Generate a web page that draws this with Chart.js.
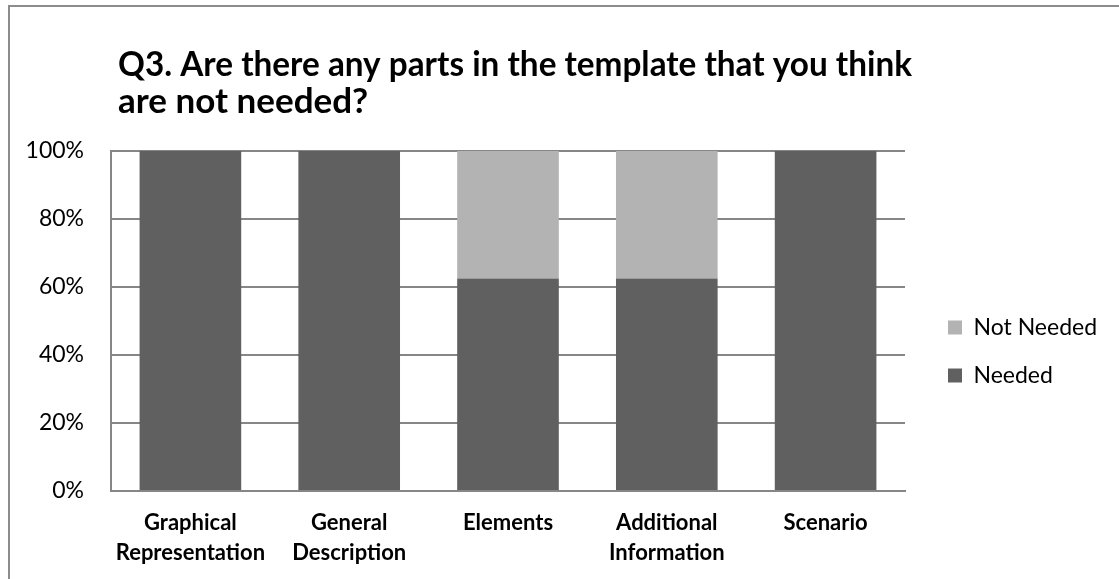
<!DOCTYPE html>
<html>
<head>
<meta charset="utf-8">
<script src="https://cdn.jsdelivr.net/npm/chart.js@4.4.1/dist/chart.umd.min.js"></script>
<style>
  html, body { margin: 0; padding: 0; background: #ffffff; }
  #wrap { position: relative; width: 1119px; height: 579px; }
  #frame { position: absolute; left: 8px; top: 5px; right: -10px; bottom: -10px;
           border-left: 2px solid #8c8c8c; border-top: 2px solid #8c8c8c; pointer-events: none; }
</style>
</head>
<body>
<div id="wrap">
  <canvas id="chart" width="1119" height="579"></canvas>
  <div id="frame"></div>
</div>
<script>
// Survey answers per template part (percent of respondents)
const categories = [
  ['Graphical', 'Representation'],
  ['General', 'Description'],
  'Elements',
  ['Additional', 'Information'],
  'Scenario'
];
const needed    = [100, 100, 62.5, 62.5, 100];
const notNeeded = [0, 0, 37.5, 37.5, 0];
const yTicks = [0, 20, 40, 60, 80, 100];

const FONT = 'Lato, "Open Sans", sans-serif';
const GRID = '#868686';

// Plot frame geometry
const PLOT_LEFT = 111;
const PLOT_BOTTOM = 491;
const LEGEND_WIDTH = 1119 - 905;
const LEGEND_SHIFT_X = 18;
const LEGEND_SHIFT_Y = 62;
const TITLE_SHIFT_X = 7;

// Fixed-width legend column nudged toward the middle of the right margin,
// title indented slightly from the plot's left edge
const blockPlacement = {
  id: 'blockPlacement',
  afterInit(chart) {
    const lg = chart.legend;
    if (!lg) return;
    const fit = lg.fit;
    lg.fit = function () { fit.call(this); this.width = LEGEND_WIDTH; };
  },
  afterLayout(chart) {
    const lg = chart.legend;
    if (lg) {
      lg.left += LEGEND_SHIFT_X; lg.right += LEGEND_SHIFT_X;
      lg.top += LEGEND_SHIFT_Y; lg.bottom += LEGEND_SHIFT_Y;
    }
    const tb = chart.titleBlock;
    if (tb) { tb.left += TITLE_SHIFT_X; tb.right += TITLE_SHIFT_X; }
  }
};

new Chart(document.getElementById('chart'), {
  type: 'bar',
  data: {
    labels: categories,
    datasets: [
      { label: 'Needed', data: needed, backgroundColor: '#606060', borderWidth: 0,
        barPercentage: 0.64, categoryPercentage: 1 },
      { label: 'Not Needed', data: notNeeded, backgroundColor: '#b3b3b3', borderWidth: 0,
        barPercentage: 0.64, categoryPercentage: 1 }
    ]
  },
  plugins: [blockPlacement],
  options: {
    responsive: false,
    animation: false,
    layout: { padding: 0 },
    plugins: {
      title: {
        display: true,
        text: ['Q3. Are there any parts in the template that you think', 'are not needed?'],
        align: 'start',
        fullSize: false,
        color: '#000000',
        font: { family: FONT, size: 35, weight: 'bold', lineHeight: '37px' },
        padding: { top: 46, bottom: 31 }
      },
      legend: {
        position: 'right',
        reverse: true,
        labels: {
          boxWidth: 14, boxHeight: 14,
          color: '#000000',
          font: { family: FONT, size: 23 },
          padding: 25
        }
      },
      tooltip: { enabled: false }
    },
    scales: {
      x: {
        stacked: true,
        grid: { display: false, drawTicks: false },
        border: { display: true, color: GRID, width: 2 },
        ticks: { color: '#000000', font: { family: FONT, size: 22, weight: 'bold', lineHeight: '30px' },
                 padding: 17, maxRotation: 0, autoSkip: false },
        afterFit: (s) => { s.height = 579 - PLOT_BOTTOM; }
      },
      y: {
        stacked: true,
        min: 0, max: 100,
        afterBuildTicks: (axis) => { axis.ticks = yTicks.map(v => ({ value: v })); },
        grid: { color: GRID, lineWidth: 2, drawTicks: false },
        border: { display: true, color: GRID, width: 2 },
        ticks: { color: '#000000', font: { family: FONT, size: 23 }, padding: 27,
                 callback: (v) => v + '%' },
        afterFit: (s) => { s.width = PLOT_LEFT; }
      }
    }
  }
});
</script>
</body>
</html>
